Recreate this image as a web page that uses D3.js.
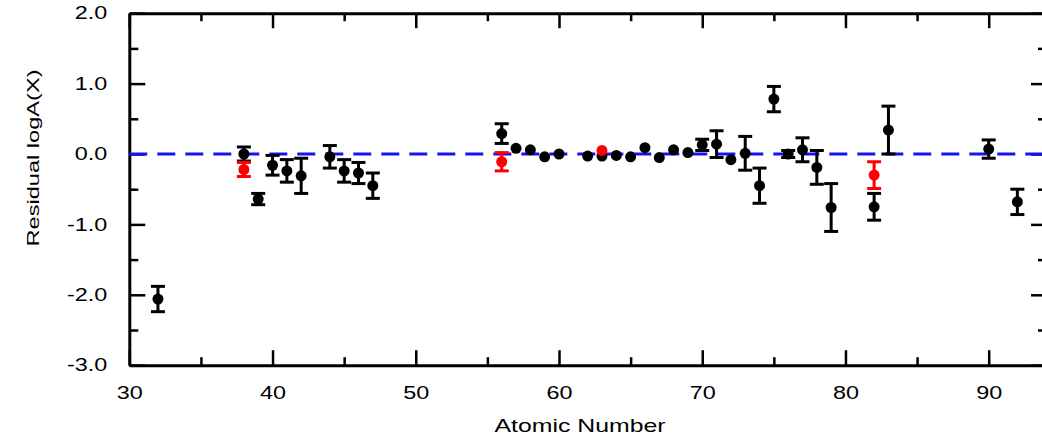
<!DOCTYPE html>
<html>
<head>
<meta charset="utf-8">
<script src="https://cdn.jsdelivr.net/npm/d3@7"></script>
<style>
  body { margin:0; background:#fff; }
  svg { display:block; }
  .ax path { stroke:#000; stroke-width:3; fill:none; }
  .ax line { stroke:#000; stroke-width:2.5; }
  .ax text { font-family:"Liberation Sans", Arial, sans-serif; font-size:18px; fill:#000; }
  .lbl { font-family:"Liberation Sans", Arial, sans-serif; fill:#000; }
</style>
</head>
<body>
<div id="chart"></div>
<script>
// black points: atomic number, residual, error
var blackZ   = [32, 38, 39, 40, 41, 42, 44, 45, 46, 47, 56, 57, 58, 59, 60, 62, 63, 64, 65, 66, 67, 68, 69, 70, 71, 72, 73, 74, 75, 76, 77, 78, 79, 82, 83, 90, 92];
var blackVal = [-2.06, 0.00, -0.64, -0.16, -0.24, -0.31, -0.04, -0.24, -0.27, -0.45, 0.29, 0.08, 0.06, -0.04, 0.00, -0.03, -0.03, -0.02, -0.04, 0.09, -0.05, 0.06, 0.02, 0.13, 0.14, -0.08, 0.01, -0.45, 0.78, 0.00, 0.06, -0.19, -0.76, -0.75, 0.34, 0.07, -0.68];
var blackErr = [0.18, 0.10, 0.08, 0.14, 0.16, 0.25, 0.16, 0.16, 0.15, 0.18, 0.14, 0, 0, 0, 0, 0, 0, 0, 0, 0, 0, 0, 0, 0.08, 0.19, 0, 0.24, 0.25, 0.18, 0.05, 0.17, 0.24, 0.34, 0.19, 0.34, 0.13, 0.18];

// red points
var redZ   = [38, 56, 63, 82];
var redVal = [-0.22, -0.11, 0.05, -0.30];
var redErr = [0.10, 0.13, 0, 0.19];

var xTicks = [30, 40, 50, 60, 70, 80, 90];
var xMinor = [35, 45, 55, 65, 75, 85];
var yTicks = [2, 1, 0, -1, -2, -3];
var yMinor = [1.5, 0.5, -0.5, -1.5, -2.5];

var width = 1042, height = 438;
var pLeft = 129.3, pRight = 1046, pTop = 13.2, pBottom = 365.2;
var stretch = 1.3;   // the reference text is wide

var svg = d3.select("#chart").append("svg")
    .attr("width", width).attr("height", height);

var x = d3.scaleLinear().domain([30, 94]).range([pLeft, pRight]);
var y = d3.scaleLinear().domain([-3, 2]).range([pBottom, pTop]);

// plain hyphen for negatives, like the reference
var yFmt = function(d) { return d.toFixed(1); };

// bottom axis with labels
var xAx = svg.append("g").classed("ax", true)
    .attr("transform", "translate(0," + pBottom + ")")
    .call(d3.axisBottom(x).tickValues(xTicks).tickSizeInner(-15).tickSizeOuter(0)
             .tickPadding(21).tickFormat(d3.format("d")));
xAx.selectAll("text").attr("transform", "scale(" + stretch + ",1)");

svg.append("g").classed("ax", true)
    .attr("transform", "translate(0," + pBottom + ")")
    .call(d3.axisBottom(x).tickValues(xMinor).tickSize(-8).tickFormat(""))
    .select(".domain").remove();

// top axis
svg.append("g").classed("ax", true)
    .attr("transform", "translate(0," + pTop + ")")
    .call(d3.axisTop(x).tickValues(xTicks).tickSizeInner(-15).tickSizeOuter(0).tickFormat(""));
svg.append("g").classed("ax", true)
    .attr("transform", "translate(0," + pTop + ")")
    .call(d3.axisTop(x).tickValues(xMinor).tickSize(-8).tickFormat(""))
    .select(".domain").remove();

// left axis with labels
var yAx = svg.append("g").classed("ax", true)
    .attr("transform", "translate(" + pLeft + ",0)")
    .call(d3.axisLeft(y).tickValues(yTicks).tickSizeInner(-16).tickSizeOuter(0)
             .tickPadding(17).tickFormat(yFmt));
yAx.selectAll("text").attr("transform", "scale(" + stretch + ",1)");

svg.append("g").classed("ax", true)
    .attr("transform", "translate(" + pLeft + ",0)")
    .call(d3.axisLeft(y).tickValues(yMinor).tickSize(-9).tickFormat(""))
    .select(".domain").remove();

// right axis
svg.append("g").classed("ax", true)
    .attr("transform", "translate(" + pRight + ",0)")
    .call(d3.axisRight(y).tickValues(yTicks).tickSizeInner(-15).tickSizeOuter(0).tickFormat(""));
svg.append("g").classed("ax", true)
    .attr("transform", "translate(" + pRight + ",0)")
    .call(d3.axisRight(y).tickValues(yMinor).tickSize(-8).tickFormat(""))
    .select(".domain").remove();

// zero line
svg.append("line")
    .attr("x1", x(30)).attr("x2", x(94))
    .attr("y1", y(0)).attr("y2", y(0))
    .attr("stroke", "#1414f0").attr("stroke-width", 3)
    .attr("stroke-dasharray", "18,10");

function drawPoints(zs, vals, errs, colour) {
  var pts = zs.map(function(z, i) { return {z: z, v: vals[i], e: errs[i]}; });
  var g = svg.append("g");
  var withErr = pts.filter(function(d) { return d.e > 0; });

  g.selectAll("line.bar").data(withErr).enter().append("line")
      .attr("x1", function(d) { return x(d.z); }).attr("x2", function(d) { return x(d.z); })
      .attr("y1", function(d) { return y(d.v + d.e); }).attr("y2", function(d) { return y(d.v - d.e); })
      .attr("stroke", colour).attr("stroke-width", 3);

  [1, -1].forEach(function(s) {
    g.selectAll("line.cap" + s).data(withErr).enter().append("line")
        .attr("x1", function(d) { return x(d.z) - 7; }).attr("x2", function(d) { return x(d.z) + 7; })
        .attr("y1", function(d) { return y(d.v + s * d.e); }).attr("y2", function(d) { return y(d.v + s * d.e); })
        .attr("stroke", colour).attr("stroke-width", 3);
  });

  g.selectAll("circle").data(pts).enter().append("circle")
      .attr("cx", function(d) { return x(d.z); })
      .attr("cy", function(d) { return y(d.v); })
      .attr("r", 5.5)
      .attr("fill", colour);
}

drawPoints(blackZ, blackVal, blackErr, "#000");
drawPoints(redZ, redVal, redErr, "#ff0000");

// axis titles
svg.append("text").classed("lbl", true)
    .attr("x", 580).attr("y", 432)
    .attr("text-anchor", "middle")
    .attr("font-size", 19)
    .attr("textLength", 171).attr("lengthAdjust", "spacingAndGlyphs")
    .text("Atomic Number");

svg.append("text").classed("lbl", true)
    .attr("transform", "translate(39,158) rotate(-90)")
    .attr("text-anchor", "middle")
    .attr("font-size", 17)
    .attr("textLength", 177).attr("lengthAdjust", "spacingAndGlyphs")
    .text("Residual  logA(X)");
</script>
</body>
</html>
